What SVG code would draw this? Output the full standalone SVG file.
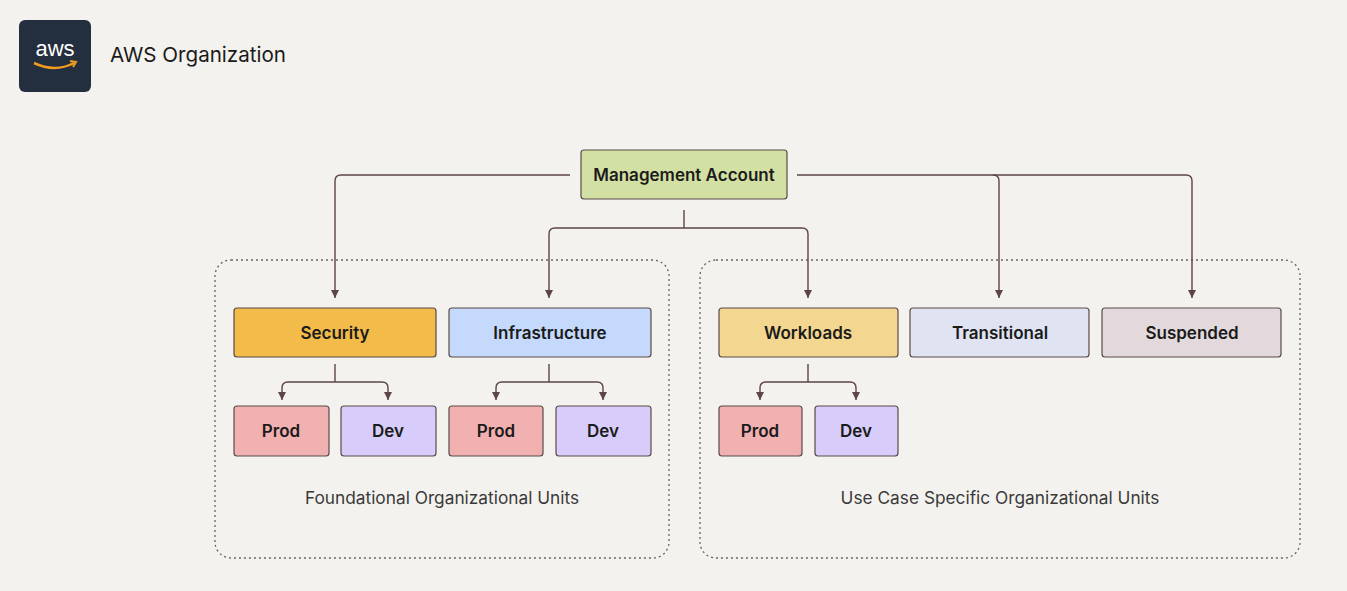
<svg xmlns="http://www.w3.org/2000/svg" width="1347" height="591" viewBox="0 0 1347 591">
<style>
text{font-family:Inter,"Liberation Sans",sans-serif;fill:#1b1b1b}
.n{stroke:#5a4a4a;stroke-width:1.2}
.t{font-size:17px;font-weight:600;text-anchor:middle}
.c{fill:none;stroke:#5c4546;stroke-width:1.4}
.g{fill:none;stroke:#6b6262;stroke-width:1.3;stroke-dasharray:2 3}
.l{font-size:17.3px;text-anchor:middle;fill:#3a3a3a}
</style>
<defs><marker id="a" viewBox="0 0 8 8" refX="8" refY="4" markerWidth="8" markerHeight="8" orient="auto" markerUnits="userSpaceOnUse"><path d="M0,0L8,4L0,8z" fill="#5c4546"/></marker></defs>
<rect width="1347" height="591" fill="#f4f2ee"/>
<g id="header">
<rect x="19" y="20" width="72" height="72" rx="6" fill="#232f3e"/>
<text x="55" y="56" font-size="22" text-anchor="middle" style="fill:#fff;font-family:'Liberation Sans',sans-serif">aws</text>
<path d="M34,63 Q55,73 74,63" fill="none" stroke="#f29c1f" stroke-width="2.5"/>
<path d="M70,61 L76,62 L73,67" fill="none" stroke="#f29c1f" stroke-width="2"/>
<text x="110" y="62" font-size="20.6">AWS Organization</text>
</g>
<g id="group-foundational"><rect class="g" x="215" y="260" width="454" height="298" rx="16"/><text class="l" x="442" y="504">Foundational Organizational Units</text></g>
<g id="group-usecase"><rect class="g" x="700" y="260" width="600" height="298" rx="16"/><text class="l" x="1000" y="504">Use Case Specific Organizational Units</text></g>
<g id="connectors">
<path class="c" marker-end="url(#a)" d="M570,175H341Q335,175 335,181V298"/>
<path class="c" marker-end="url(#a)" d="M797,175H1186Q1192,175 1192,181V298"/>
<path class="c" marker-end="url(#a)" d="M993,175Q999,175 999,181V298"/>
<path class="c" d="M684,210V228"/>
<path class="c" marker-end="url(#a)" d="M684,228H555Q549,228 549,234V298"/>
<path class="c" marker-end="url(#a)" d="M684,228H802Q808,228 808,234V298"/>
<path class="c" d="M335,364V382"/>
<path class="c" marker-end="url(#a)" d="M335,382H288Q282,382 282,388V400"/>
<path class="c" marker-end="url(#a)" d="M335,382H382Q388,382 388,388V400"/>
<path class="c" d="M549,364V382"/>
<path class="c" marker-end="url(#a)" d="M549,382H502Q496,382 496,388V400"/>
<path class="c" marker-end="url(#a)" d="M549,382H597Q603,382 603,388V400"/>
<path class="c" d="M808,364V382"/>
<path class="c" marker-end="url(#a)" d="M808,382H766Q760,382 760,388V400"/>
<path class="c" marker-end="url(#a)" d="M808,382H850Q856,382 856,388V400"/>
</g>
<g id="management"><rect class="n" x="581" y="150" width="206" height="49" rx="3" fill="#d3e0a4"/><text class="t" x="684" y="181">Management Account</text></g>
<g id="security"><rect class="n" x="234" y="308" width="202" height="49" rx="3" fill="#f2bb4a"/><text class="t" x="335" y="339">Security</text></g>
<g id="infrastructure"><rect class="n" x="449" y="308" width="202" height="49" rx="3" fill="#c4d9fb"/><text class="t" x="550" y="339">Infrastructure</text></g>
<g id="workloads"><rect class="n" x="719" y="308" width="179" height="49" rx="3" fill="#f3d68f"/><text class="t" x="808" y="339">Workloads</text></g>
<g id="transitional"><rect class="n" x="910" y="308" width="179" height="49" rx="3" fill="#dfe3f2"/><text class="t" x="1000" y="339">Transitional</text></g>
<g id="suspended"><rect class="n" x="1102" y="308" width="179" height="49" rx="3" fill="#e3d9dc"/><text class="t" x="1192" y="339">Suspended</text></g>
<g id="sec-prod"><rect class="n" x="234" y="406" width="95" height="50" rx="3" fill="#f2b1b1"/><text class="t" x="281" y="437">Prod</text></g>
<g id="sec-dev"><rect class="n" x="341" y="406" width="95" height="50" rx="3" fill="#d8cdfa"/><text class="t" x="388" y="437">Dev</text></g>
<g id="inf-prod"><rect class="n" x="449" y="406" width="94" height="50" rx="3" fill="#f2b1b1"/><text class="t" x="496" y="437">Prod</text></g>
<g id="inf-dev"><rect class="n" x="556" y="406" width="95" height="50" rx="3" fill="#d8cdfa"/><text class="t" x="603" y="437">Dev</text></g>
<g id="wl-prod"><rect class="n" x="719" y="406" width="83" height="50" rx="3" fill="#f2b1b1"/><text class="t" x="760" y="437">Prod</text></g>
<g id="wl-dev"><rect class="n" x="815" y="406" width="83" height="50" rx="3" fill="#d8cdfa"/><text class="t" x="856" y="437">Dev</text></g>
</svg>
